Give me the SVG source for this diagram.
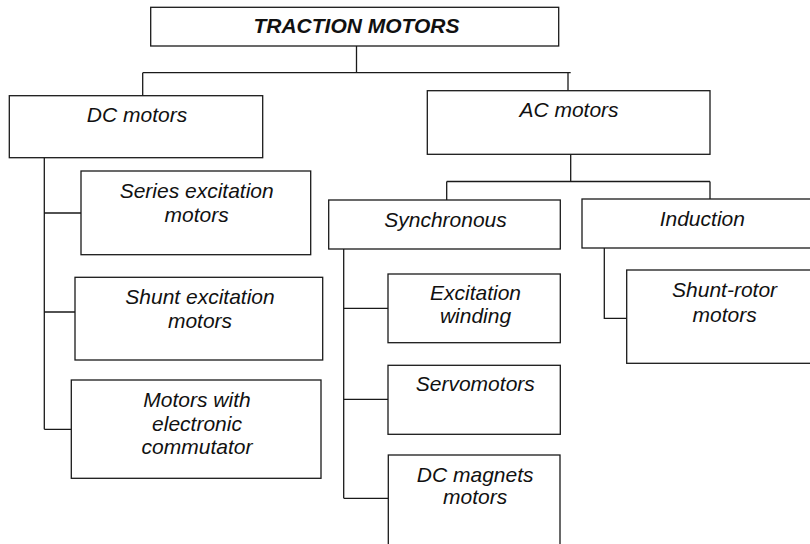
<svg xmlns="http://www.w3.org/2000/svg" width="810" height="544" viewBox="0 0 810 544">
<style>
.box{fill:#fff;stroke:#1a1a1a;stroke-width:1.3}
.ln{fill:none;stroke:#1a1a1a;stroke-width:1.3}
text{font-family:"Liberation Sans",Arial,sans-serif;font-size:21px;font-style:italic;fill:#111;text-anchor:middle}
.title{font-weight:bold}
</style>
<rect width="810" height="544" fill="#fff"/>
<g id="connectors">
<path class="ln" d="M356.5 46V72.7M142.7 72.7H570.7M142.7 72.7V95.7M568 72.7V90.7"/>
<path class="ln" d="M44.3 157.7V429.3M44.3 213H81M44.3 312H75M44.3 429.3H71.3"/>
<path class="ln" d="M570.7 154.3V181.5M446.7 181.5H710M446.7 181.5V200M710 181.5V199"/>
<path class="ln" d="M343.7 249V498.3M343.7 308.3H388M343.7 399.3H388M343.7 498.3H388"/>
<path class="ln" d="M604.3 248V318.3H626.7"/>
</g>
<g id="traction">
<rect class="box" x="150.7" y="7.3" width="408" height="38.7"/>
<text class="title" x="356.5" y="33.3">TRACTION MOTORS</text>
</g>
<g id="dc">
<rect class="box" x="9.3" y="95.7" width="253.4" height="62"/>
<text x="137" y="121.7">DC motors</text>
</g>
<g id="ac">
<rect class="box" x="427.3" y="90.7" width="282.7" height="63.6"/>
<text x="569" y="116.7">AC motors</text>
</g>
<g id="series">
<rect class="box" x="81" y="171" width="229.7" height="83.7"/>
<text x="196.7" y="197.7">Series excitation</text>
<text x="196.7" y="221.7">motors</text>
</g>
<g id="shunt">
<rect class="box" x="75" y="277.3" width="247.7" height="82.7"/>
<text x="200" y="304">Shunt excitation</text>
<text x="200" y="328">motors</text>
</g>
<g id="electronic">
<rect class="box" x="71.3" y="380" width="249.7" height="98.3"/>
<text x="197" y="406.7">Motors with</text>
<text x="197" y="430.5">electronic</text>
<text x="197" y="454.2">commutator</text>
</g>
<g id="synchronous">
<rect class="box" x="328.7" y="200" width="231.6" height="49"/>
<text x="445.5" y="227.3">Synchronous</text>
</g>
<g id="induction">
<rect class="box" x="582" y="199" width="240" height="49"/>
<text x="702.3" y="225.7">Induction</text>
</g>
<g id="excitation">
<rect class="box" x="388" y="274" width="172.3" height="68.7"/>
<text x="475.5" y="299.5">Excitation</text>
<text x="475.5" y="323.3">winding</text>
</g>
<g id="servo">
<rect class="box" x="388" y="365.3" width="172.3" height="69"/>
<text x="475.3" y="390.7">Servomotors</text>
</g>
<g id="dcmagnets">
<rect class="box" x="388.3" y="455" width="171.7" height="100"/>
<text x="475.2" y="481.7">DC magnets</text>
<text x="475.2" y="504">motors</text>
</g>
<g id="shuntrotor">
<rect class="box" x="626.7" y="270" width="196" height="93.3"/>
<text x="724.6" y="296.7">Shunt-rotor</text>
<text x="724.6" y="321.7">motors</text>
</g>
</svg>
